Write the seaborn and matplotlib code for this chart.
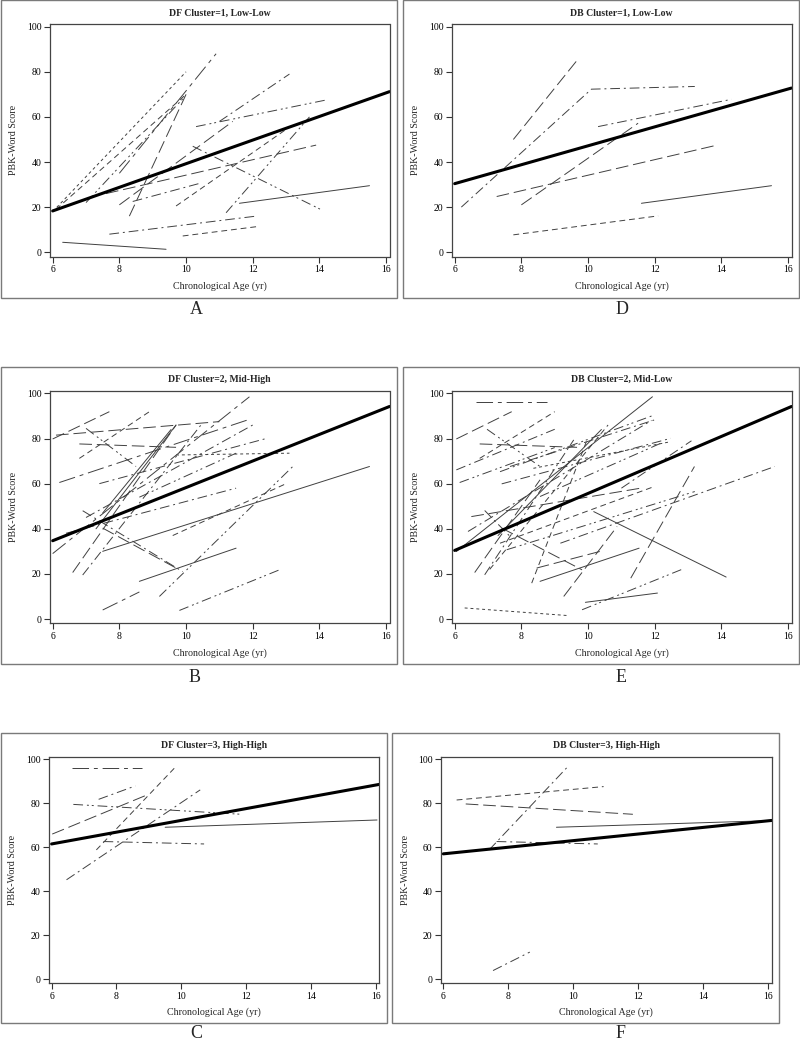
import matplotlib
matplotlib.use("Agg")
import matplotlib.pyplot as plt
from matplotlib.patches import Rectangle
import seaborn as sns
import pandas as pd

# ---------------- data ----------------
MEAN_AGES = [6.0, 16.1]

A_title = "DF Cluster=1, Low-Low"
A_mean = [18.3, 71.2]
A_ages = [[6.0, 10.0], [6.1, 10.0], [7.0, 9.9], [8.0, 10.9], [8.3, 10.0], [8.0, 11.4],
          [7.6, 13.9], [8.4, 10.4], [9.7, 13.1], [11.2, 13.7], [10.2, 14.1], [10.3, 14.2],
          [11.0, 13.1], [11.6, 15.5], [7.7, 12.1], [9.9, 12.1], [6.3, 9.4]]
A_scores = [[18, 80], [19, 70], [22, 68], [35, 88], [16, 70], [21, 58],
            [26, 47.5], [22.5, 30.5], [20.5, 55.5], [17.5, 60], [47, 18.5], [55.7, 67.5],
            [58, 79], [21.7, 29.5], [8, 16], [7.2, 11.3], [4.4, 1.3]]
A_styles = ["dot", "dash", "dashdotdot", "longdashdot", "longdash", "longdash",
            "longdash", "dashdot", "dash", "dashdotdot", "dashdotdot", "dashdotdot",
            "dashdot", "solid", "dashdot", "dash", "solid"]

D_title = "DB Cluster=1, Low-Low"
D_mean = [30.4, 72.8]
D_ages = [[7.76, 9.72], [6.2, 10.1, 13.2], [10.3, 14.3], [8.0, 11.5], [7.26, 13.9],
          [11.6, 15.5], [7.76, 12.1]]
D_scores = [[50, 86], [20, 72.3, 73.5], [55.7, 67.8], [21, 57.2], [24.7, 47.6],
            [21.7, 29.5], [7.7, 16.1]]
D_styles = ["longdash", "dashdot", "dashdot", "longdash", "longdash", "solid", "dash"]

B_title = "DF Cluster=2, Mid-High"
B_mean = [34.7, 94.2]
B_ages = [[6.0, 7.7], [6.8, 8.9], [6.1, 11.0], [7.0, 8.5], [6.8, 9.7], [9.7, 13.1],
          [7.3, 9.7], [7.5, 9.55], [6.2, 11.9], [7.4, 12.4], [8.6, 11.5], [6.4, 11.5],
          [7.0, 12.0], [9.6, 13.0], [7.5, 15.5], [9.2, 13.2], [8.6, 11.5], [7.5, 9.8],
          [6.9, 9.9], [7.5, 8.6], [9.8, 12.8], [6.6, 9.7], [6.9, 10.5], [6.0, 11.9]]
B_scores = [[79.8, 91.9], [71.2, 91.9], [81.5, 87.5], [84.5, 67.6], [77.6, 76.1], [72.7, 73.5],
            [40, 86], [47, 84], [60.5, 88.5], [60, 80], [54, 73.5], [38, 58],
            [45, 86], [37, 60], [30, 67.6], [10, 67.6], [16.7, 31.4], [40.3, 21.8],
            [48, 21], [4, 12], [3.8, 21.8], [20.6, 86], [19.5, 87], [29, 98.5]]
B_styles = ["longdash", "dash", "longdash", "dashdotdot", "longdash", "dot",
            "solid", "solid", "longdashdot", "dashdot", "dashdotdot", "dashdot",
            "dashdot", "dash", "solid", "dashdotdot", "solid", "longdash",
            "dashdot", "longdashdot", "dashdotdot", "longdash", "dashdot", "longdashdot"]

E_title = "DB Cluster=2, Mid-Low"
E_mean = [30.4, 94.2]
E_ages = [[6.65, 8.76], [6.05, 7.71], [6.05, 9.0], [6.15, 9.0], [6.75, 9.0], [6.97, 8.56],
          [6.75, 9.67], [8.36, 12.48], [6.05, 11.93], [7.3, 10.4], [7.41, 12.48], [6.5, 11.58],
          [6.4, 11.9], [7.36, 11.98], [7.56, 13.2], [9.17, 15.6], [10.17, 14.14], [8.56, 11.53],
          [8.46, 10.47], [7.41, 9.82], [6.9, 7.66], [6.3, 9.42], [9.92, 12.08], [9.82, 12.83],
          [9.27, 10.87], [11.28, 13.19], [8.31, 9.97], [6.6, 8.56], [6.9, 9.57], [7.05, 10.6],
          [11.0, 13.1], [8.56, 12.18], [7.36, 11.98], [7.66, 11.98]]
E_scores = [[96, 96], [79.8, 91.9], [66.1, 84.1], [60.5, 76], [71.2, 91.9], [84.1, 67.6],
            [77.6, 76.1], [66.8, 78.6], [29.9, 98.5], [37, 84], [59.9, 80.1], [45.4, 58],
            [38.8, 88], [33.6, 58.7], [30.7, 56.5], [33.6, 67.6], [47.6, 18.6], [16.7, 31.4],
            [22.6, 30.4], [40.3, 21.8], [48.1, 36.6], [4.9, 1.5], [7.4, 11.5], [4.1, 22.1],
            [10, 41], [18.1, 67.6], [15.9, 79.4], [20.6, 61.7], [19.6, 79.4], [22, 86],
            [58, 79], [54.3, 77.9], [65.3, 90.4], [67.6, 88.2]]
E_styles = ["longdashdot", "longdash", "dashdot", "dashdotdot", "dash", "dashdotdot",
            "longdash", "dot", "solid", "solid", "dashdot", "longdash",
            "dashdot", "dash", "dashdotdot", "dashdot", "solid", "solid",
            "longdash", "longdash", "dashdot", "dot", "solid", "dashdotdot",
            "longdash", "longdash", "dash", "longdash", "dashdot", "dash",
            "dashdot", "dashdotdot", "dashdotdot", "dashdot"]

C_title = "DF Cluster=3, High-High"
C_mean = [61.5, 88.6]
C_ages = [[6.63, 8.78], [6.02, 8.99], [7.45, 8.58], [6.67, 11.85], [9.5, 16.03],
          [7.38, 9.83], [6.46, 10.58], [7.6, 10.7]]
C_scores = [[95.9, 95.9], [66, 84.1], [81.8, 87.9], [79.5, 75], [69.1, 72.4],
            [58.8, 96.7], [45.2, 86.1], [62.6, 61.5]]
C_styles = ["longdashdot", "longdash", "dashdot", "dashdotdot", "solid",
            "dash", "dashdot", "dashdot"]

F_title = "DB Cluster=3, High-High"
F_mean = [57.0, 72.2]
F_ages = [[6.41, 10.93], [6.69, 11.83], [9.48, 16.02], [7.41, 9.83], [7.64, 10.75], [7.53, 8.66]]
F_scores = [[81.5, 87.6], [79.7, 75], [69.1, 72.1], [58.8, 96.7], [62.6, 61.5], [3.9, 12.3]]
F_styles = ["dash", "longdash", "solid", "dashdot", "dashdot", "dashdot"]

X_TICKS = [6, 8, 10, 12, 14, 16]
Y_TICKS = [0, 20, 40, 60, 80, 100]
X_LABEL = "Chronological Age (yr)"
Y_LABEL = "PBK-Word Score"

DASHES = {"solid": "", "dot": (3, 3), "dash": (6, 4), "longdash": (13, 5),
          "dashdot": (10, 4, 2, 4), "dashdotdot": (10, 4, 2, 3, 2, 4),
          "longdashdot": (17, 5, 4, 5)}

# ---------------- layout ----------------
sns.set_style("ticks")
plt.rcParams["font.family"] = ["Liberation Serif", "DejaVu Serif"]

W, H = 800, 1042
fig = plt.figure(figsize=(W / 100, H / 100), dpi=100)

def fx(px):
    return px / W

def fy(py):
    return 1 - py / H

panels = [
    (A_title, A_ages, A_scores, A_styles, A_mean, (50, 389.5, 24, 256.5), (0.5, 397, 0.5, 298), 13, 286, 14, "A", (196, 310)),
    (D_title, D_ages, D_scores, D_styles, D_mean, (452, 791.5, 24, 256.5), (403, 798.5, 0.5, 298), 13, 286, 415, "D", (622, 310)),
    (B_title, B_ages, B_scores, B_styles, B_mean, (50, 389.5, 390.7, 623.3), (0.5, 397, 367, 664), 379, 653, 14, "B", (195, 677)),
    (E_title, E_ages, E_scores, E_styles, E_mean, (452, 791.5, 390.7, 623.3), (403, 798.5, 367, 664), 379, 653, 415, "E", (621, 677)),
    (C_title, C_ages, C_scores, C_styles, C_mean, (49, 379.3, 756.7, 983.3), (0.5, 387, 733, 1023), 745, 1011.7, 13, "C", (196, 1034)),
    (F_title, F_ages, F_scores, F_styles, F_mean, (440.7, 771.7, 756.7, 983.3), (392, 779, 733, 1023), 745, 1011.7, 405, "F", (621, 1034)),
]

for (title, ages, scores, styles, mean, axpx, boxpx, ty, xly, ylx, letter, lxy) in panels:
    l, r, t, b = axpx
    ax = fig.add_axes([fx(l), fy(b), fx(r) - fx(l), fy(t) - fy(b)])

    rows = []
    for i, (a, s, st) in enumerate(zip(ages, scores, styles)):
        for xv, yv in zip(a, s):
            rows.append({"subject": i, "age": xv, "score": yv, "style": st})
    df = pd.DataFrame(rows)
    used = {k: v for k, v in DASHES.items() if k in set(styles)}
    sns.lineplot(data=df, x="age", y="score", units="subject", estimator=None,
                 style="style", dashes=used, color="#404040", linewidth=0.7,
                 legend=False, ax=ax, sort=False)
    sns.lineplot(x=MEAN_AGES, y=mean, color="black", linewidth=2.2, ax=ax)

    ax.set_xlim(5.92, 16.1)
    ax.set_ylim(-1.9, 101.2)
    ax.set_xticks(X_TICKS)
    ax.set_yticks(Y_TICKS)
    ax.set_xlabel("")
    ax.set_ylabel("")
    ax.tick_params(axis="both", direction="out", length=4, width=0.8,
                   labelsize=7, pad=2, color="#333333", labelcolor="black")
    for sp in ax.spines.values():
        sp.set_visible(True)
        sp.set_linewidth(0.9)
        sp.set_color("#444444")

    cx = (l + r) / 2
    fig.text(fx(cx), fy(ty), title, ha="center", va="center", fontsize=7, fontweight="bold")
    fig.text(fx(cx), fy(xly), X_LABEL, ha="center", va="center", fontsize=7.2)
    fig.text(fx(ylx), fy((t + b) / 2), Y_LABEL, ha="center", va="center", rotation=90, fontsize=7.2)
    fig.text(fx(lxy[0]), fy(lxy[1]), letter, ha="center", va="center", fontsize=13)

    bl, br, bt, bb = boxpx
    fig.patches.append(Rectangle((fx(bl), fy(bb)), fx(br) - fx(bl), fy(bt) - fy(bb),
                                 transform=fig.transFigure, fill=False,
                                 edgecolor="#7a7a7a", linewidth=1.0))

fig.savefig("out.png", dpi=100)
